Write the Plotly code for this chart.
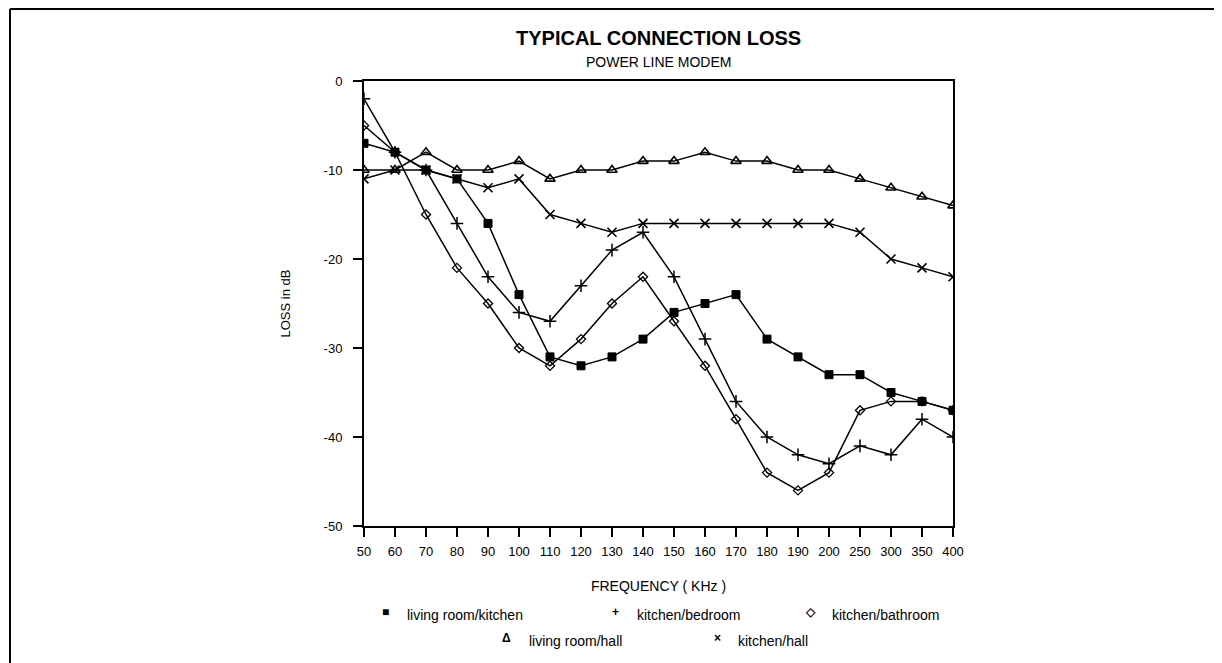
import plotly.graph_objects as go

freq = ["50", "60", "70", "80", "90", "100", "110", "120", "130", "140",
        "150", "160", "170", "180", "190", "200", "250", "300", "350", "400"]

loss_ticks = [0, -10, -20, -30, -40, -50]
loss_tick_labels = ["0", "-10", "-20", "-30", "-40", "-50"]

living_room_kitchen = [-7, -8, -10, -11, -16, -24, -31, -32, -31, -29,
                       -26, -25, -24, -29, -31, -33, -33, -35, -36, -37]
kitchen_bedroom = [-2, -8, -10, -16, -22, -26, -27, -23, -19, -17,
                   -22, -29, -36, -40, -42, -43, -41, -42, -38, -40]
kitchen_bathroom = [-5, -8, -15, -21, -25, -30, -32, -29, -25, -22,
                    -27, -32, -38, -44, -46, -44, -37, -36, -36, -37]
living_room_hall = [-10, -10, -8, -10, -10, -9, -11, -10, -10, -9,
                    -9, -8, -9, -9, -10, -10, -11, -12, -13, -14]
kitchen_hall = [-11, -10, -10, -11, -12, -11, -15, -16, -17, -16,
                -16, -16, -16, -16, -16, -16, -17, -20, -21, -22]

series = [
    ("living room/kitchen", living_room_kitchen, "square", 8, 1),
    ("kitchen/bedroom", kitchen_bedroom, "cross-thin-open", 9, 1.5),
    ("kitchen/bathroom", kitchen_bathroom, "diamond-open", 7, 1.3),
    ("living room/hall", living_room_hall, "triangle-up-open", 9, 1.6),
    ("kitchen/hall", kitchen_hall, "x-thin-open", 9, 1.6),
]

FONT = "Liberation Sans, Arial, sans-serif"

fig = go.Figure()
for name, vals, sym, size, lw in series:
    fig.add_trace(go.Scatter(
        x=freq, y=vals, name=name, mode="lines+markers",
        line=dict(color="black", width=1.5),
        marker=dict(symbol=sym, size=size, color="black",
                    line=dict(color="black", width=lw)),
        showlegend=False,
    ))

W, H = 1222, 663
OFF = 8  # page body margin
PL, PR, PT, PB = 364, 953, 81, 526  # plot area in screen pixels
pw, ph = PR - PL, PB - PT
L, T = PL - OFF, PT - OFF
R, B = W - L - pw, H - T - ph


def px(x):
    return (x - PL) / pw


def py(y):
    return (PB - y) / ph


annotations = [
    dict(text="<b>TYPICAL CONNECTION LOSS</b>", x=0.5, y=py(38), xref="paper", yref="paper",
         showarrow=False, font=dict(size=20, family=FONT, color="black"), xanchor="center", yanchor="middle"),
    dict(text="POWER LINE MODEM", x=0.5, y=py(62), xref="paper", yref="paper",
         showarrow=False, font=dict(size=14, family=FONT, color="black"), xanchor="center", yanchor="middle"),
]

legend_items = [
    ("■", "living room/kitchen", 385, 405, 615),
    ("+", "kitchen/bedroom", 615, 635, 615),
    ("◇", "kitchen/bathroom", 810, 830, 615),
    ("Δ", "living room/hall", 506, 527, 641),
    ("×", "kitchen/hall", 717, 736, 641),
]
for sym, label, sx, lx, ly in legend_items:
    annotations.append(dict(text="<b>" + sym + "</b>", x=px(sx), y=py(ly - 3), xref="paper", yref="paper",
                            showarrow=False, font=dict(size=12, family=FONT, color="black"),
                            xanchor="center", yanchor="middle"))
    annotations.append(dict(text=label, x=px(lx), y=py(ly), xref="paper", yref="paper",
                            showarrow=False, font=dict(size=14, family=FONT, color="black"),
                            xanchor="left", yanchor="middle"))

shapes = [
    dict(type="line", xref="paper", yref="paper", x0=px(10), x1=px(10), y0=py(9), y1=py(H + 20),
         line=dict(color="black", width=2)),
    dict(type="line", xref="paper", yref="paper", x0=px(10), x1=px(W + 20), y0=py(9), y1=py(9),
         line=dict(color="black", width=2)),
]

fig.update_layout(
    width=W, height=H,
    margin=dict(l=L, r=R, t=T, b=B),
    paper_bgcolor="white", plot_bgcolor="white",
    font=dict(family=FONT, size=13, color="black"),
    annotations=annotations,
    shapes=shapes,
    showlegend=False,
    xaxis=dict(
        type="category", range=[0, len(freq) - 1],
        showline=True, linecolor="black", linewidth=2, mirror=True,
        ticks="outside", ticklen=9, tickwidth=2, tickcolor="black",
        showgrid=False, zeroline=False,
        tickfont=dict(size=13, family=FONT), ticklabelstandoff=3,
        title=dict(text="FREQUENCY ( KHz )", font=dict(size=14, family=FONT), standoff=24),
    ),
    yaxis=dict(
        range=[-50, 0], tickvals=loss_ticks, ticktext=loss_tick_labels,
        showline=True, linecolor="black", linewidth=2, mirror=True,
        ticks="outside", ticklen=9, tickwidth=2, tickcolor="black",
        showgrid=False, zeroline=False,
        tickfont=dict(size=13, family=FONT), ticklabelstandoff=8,
        title=dict(text="LOSS in dB", font=dict(size=13, family=FONT), standoff=30),
    ),
)

fig.write_html("out.html")
